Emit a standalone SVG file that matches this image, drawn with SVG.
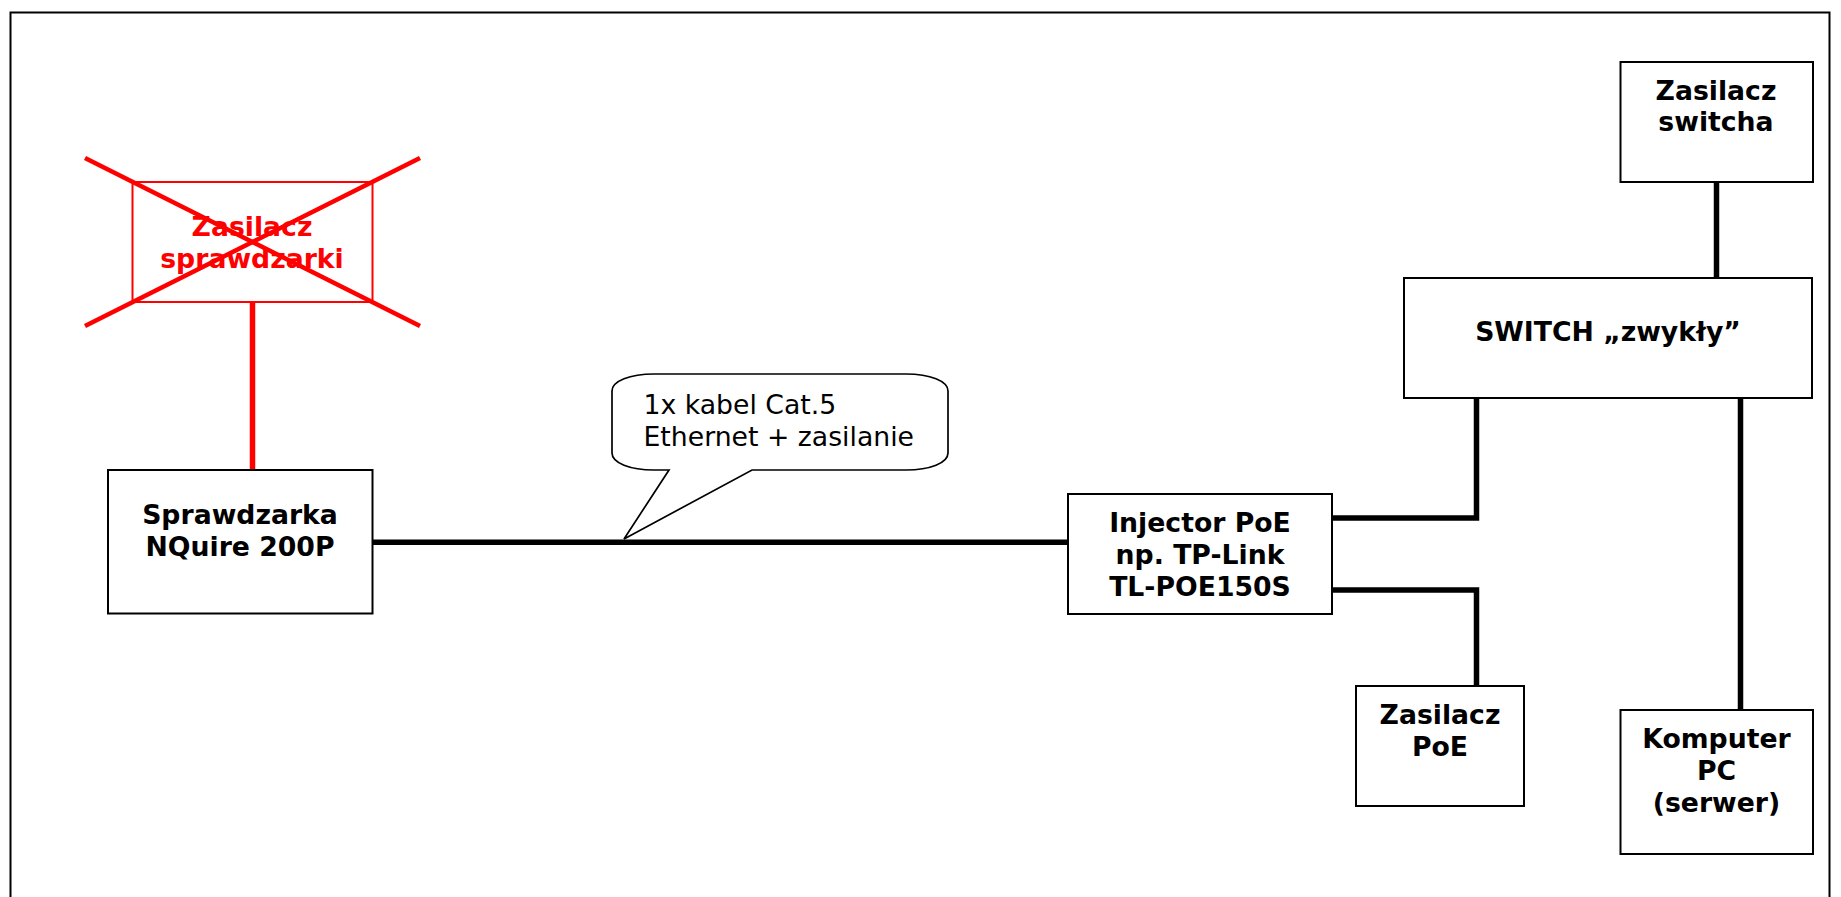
<svg xmlns="http://www.w3.org/2000/svg" width="1841" height="897" viewBox="0 0 1841 897">
<style>
.box{fill:#fff;stroke:#000;stroke-width:2}
.redbox{fill:#fff;stroke:#f00;stroke-width:2}
.t{font-family:"DejaVu Sans",Verdana,sans-serif;font-weight:700;font-size:26.700px;text-anchor:middle;fill:#000}
.r{fill:#f00}
.c{fill:none;stroke:#000;stroke-width:5.500}
.rc{fill:none;stroke:#f00;stroke-width:5.500}
.x{fill:none;stroke:#f00;stroke-width:4.500}
.n{font-family:"DejaVu Sans",Verdana,sans-serif;font-size:26.700px;fill:#000}
</style>
<rect width="1841" height="897" fill="#fff"/>
<rect id="frame" x="10.500" y="12.500" width="1819" height="900" fill="none" stroke="#000" stroke-width="2"/>
<g id="connectors">
<path class="rc" d="M252.500 302V470"/>
<path class="c" d="M372 542.300H1068"/>
<path class="c" d="M1716.500 182V278"/>
<path class="c" d="M1332 518H1476.500V398"/>
<path class="c" d="M1332 590H1476.500V686"/>
<path class="c" d="M1740.500 398V710"/>
</g>
<g id="zasilacz-sprawdzarki">
<rect class="redbox" x="132.500" y="182" width="240" height="120"/>
<text class="t r" x="252" y="236">Zasilacz</text>
<text class="t r" x="252" y="268">sprawdzarki</text>
<path class="x" d="M85 158L420 326M85 326L420 158"/>
</g>
<g id="sprawdzarka">
<rect class="box" x="108" y="470" width="264.500" height="143.500"/>
<text class="t" x="240" y="524">Sprawdzarka</text>
<text class="t" x="240" y="556">NQuire 200P</text>
</g>
<g id="callout">
<path d="M654 374H906C930 374 948 381 948 391V453C948 463 930 470 906 470H752L624 539L669 470H654C630 470 612 463 612 453V391C612 381 630 374 654 374Z" fill="#fff" stroke="#000" stroke-width="1.700"/>
<text class="n" x="643.500" y="414">1x kabel Cat.5</text>
<text class="n" x="643.500" y="446">Ethernet + zasilanie</text>
</g>
<g id="injector">
<rect class="box" x="1068" y="494" width="264" height="120"/>
<text class="t" x="1200" y="532">Injector PoE</text>
<text class="t" x="1200" y="564">np. TP-Link</text>
<text class="t" x="1200" y="596">TL-POE150S</text>
</g>
<g id="zasilacz-switcha">
<rect class="box" x="1620.500" y="62" width="192.500" height="120"/>
<text class="t" x="1716" y="100">Zasilacz</text>
<text class="t" x="1716" y="131">switcha</text>
</g>
<g id="switch">
<rect class="box" x="1404" y="278" width="408" height="120"/>
<text class="t" x="1608" y="341">SWITCH „zwykły”</text>
</g>
<g id="zasilacz-poe">
<rect class="box" x="1356" y="686" width="168" height="120"/>
<text class="t" x="1440" y="724">Zasilacz</text>
<text class="t" x="1440" y="756">PoE</text>
</g>
<g id="komputer">
<rect class="box" x="1620.500" y="710" width="192.500" height="144"/>
<text class="t" x="1716.500" y="748">Komputer</text>
<text class="t" x="1716.500" y="780">PC</text>
<text class="t" x="1716.500" y="812">(serwer)</text>
</g>
</svg>
